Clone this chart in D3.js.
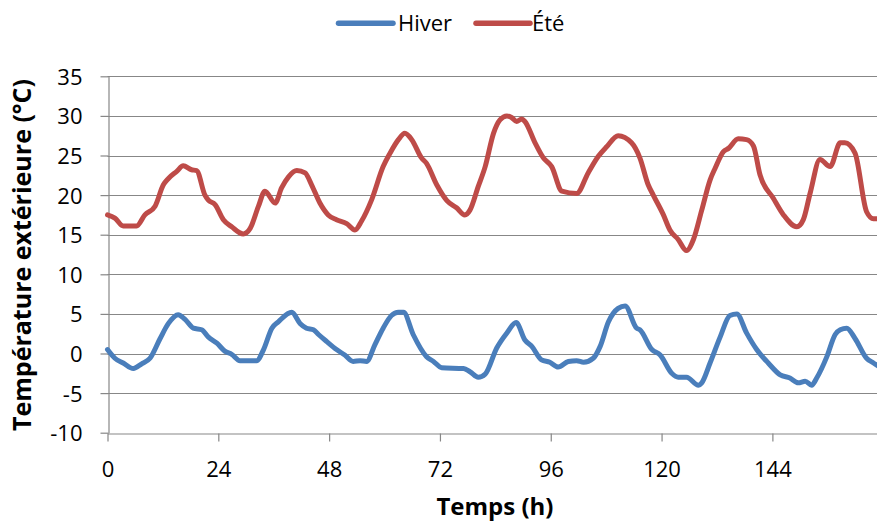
<!DOCTYPE html>
<html>
<head>
<meta charset="utf-8">
<script src="https://cdn.jsdelivr.net/npm/d3@7/dist/d3.min.js"></script>
<style>
  html, body { margin: 0; padding: 0; background: #fff; overflow: hidden; }
  svg { display: block; }
</style>
</head>
<body>
<svg id="chart" width="877" height="524"></svg>
<script>
// ---- data ----
const seriesNames = ["Hiver", "Été"];
const xTicks = [0, 24, 48, 72, 96, 120, 144];
const yTicks = [-10, -5, 0, 5, 10, 15, 20, 25, 30, 35];

const hiverHours = [0, 1.6, 3.4, 5.6, 7.4, 9.2, 11.4, 13.2, 15.3, 16.8, 18.6, 20.4, 21.8, 23.7, 25.4, 26.9, 28.7, 32.3, 33.8, 35.6, 37, 39.9, 41.7, 43.1, 44.6, 45.7, 47.5, 49.6, 51.4, 53.2, 54.7, 56.1, 57.9, 59.7, 61.5, 63, 64.1, 66.2, 69.1, 70.6, 72.4, 77.1, 78.5, 80.3, 81.8, 84.3, 86.5, 88.5, 90.4, 91.9, 94, 95.8, 97.6, 99.8, 101.6, 103.1, 105.2, 106.7, 108.5, 110.6, 112.1, 114.6, 115.3, 117.9, 119.7, 122.2, 123.6, 125.4, 128, 128.7, 130.5, 132.7, 134.8, 136.3, 138.4, 140.6, 143.1, 145.7, 147.8, 149.6, 151.1, 152.5, 153.6, 155.8, 157.6, 158.7, 160.1, 161.9, 164.4, 165.9, 168];
const hiverTemps = [0.5, -0.6, -1.2, -1.9, -1.3, -0.6, 1.9, 3.8, 4.9, 4.3, 3.2, 3.0, 2.1, 1.3, 0.3, -0.1, -0.9, -0.9, 0.5, 3.2, 4.0, 5.2, 3.8, 3.2, 3.0, 2.4, 1.5, 0.5, -0.2, -1.0, -0.9, -1.0, 1.1, 3.2, 4.8, 5.2, 5.2, 2.4, -0.4, -1.0, -1.8, -1.9, -2.3, -3.0, -2.6, 0.7, 2.6, 3.9, 1.7, 0.9, -0.8, -1.1, -1.7, -1.0, -0.9, -1.1, -0.6, 0.9, 4.0, 5.7, 6.0, 3.2, 3.0, 0.5, -0.2, -2.5, -3.0, -3.0, -4.0, -3.7, -1.2, 2.1, 4.8, 5.0, 2.6, 0.5, -1.2, -2.7, -3.1, -3.7, -3.5, -4.0, -3.1, -0.4, 2.4, 3.0, 3.2, 1.9, -0.6, -1.2, -2.0];

const eteHours = [0, 1.6, 3.4, 6.3, 8.1, 10.3, 12.1, 13.2, 15, 16.4, 18.2, 19.3, 21.1, 21.8, 23.3, 25.1, 26.9, 29.4, 30.9, 32.7, 34.1, 36.3, 37.7, 39.2, 41, 42.8, 44.2, 46, 47.8, 49.6, 51.8, 53.6, 55, 57.2, 59.7, 61.2, 63, 64.4, 65.9, 68, 69.1, 71.3, 73.5, 75.6, 77.4, 78.5, 80.3, 81.8, 83.6, 85, 86.5, 87.5, 88.6, 89.7, 90.4, 92.6, 94.4, 96.2, 98.4, 101.6, 104.1, 106.3, 108.1, 110.6, 113.5, 115.3, 117.1, 118.2, 120.4, 121.8, 123.6, 125.4, 126.9, 128.7, 130.5, 131.6, 133.4, 134.5, 136.6, 138.4, 139.9, 141.3, 144.2, 146.4, 149.3, 150.7, 152.2, 154.3, 156.5, 158.7, 159.7, 161.9, 164.4, 165.9, 168];
const eteTemps = [17.5, 17.1, 16.1, 16.1, 17.5, 18.6, 21.3, 22.1, 23.0, 23.7, 23.2, 23.1, 20.0, 19.4, 18.8, 16.9, 16.0, 15.1, 15.8, 18.6, 20.5, 19.0, 20.9, 22.3, 23.1, 22.8, 21.3, 19.0, 17.5, 16.9, 16.4, 15.6, 16.7, 19.4, 23.6, 25.3, 27.0, 27.8, 27.0, 24.7, 24.0, 21.3, 19.3, 18.4, 17.5, 18.1, 21.1, 23.6, 27.8, 29.5, 30.0, 29.8, 29.3, 29.6, 29.3, 26.6, 24.7, 23.6, 20.5, 20.2, 22.8, 24.9, 26.1, 27.5, 26.6, 24.7, 21.3, 20.0, 17.5, 15.6, 14.4, 13.0, 14.4, 18.1, 21.9, 23.4, 25.5, 25.9, 27.1, 27.0, 26.2, 22.6, 19.6, 17.5, 16.0, 16.9, 20.3, 24.5, 23.6, 26.6, 26.6, 25.3, 17.9, 17.0, 17.0];

const colors = ["#4A7EBB", "#BE4B48"];
const xTitle = "Temps (h)";
const yTitle = "Température extérieure (°C)";

// ---- drawing ----
const FONT = "'Open Sans', 'Noto Sans', 'DejaVu Sans', sans-serif";
const svg = d3.select("#chart");
const gridColor = "#878787";

const x = d3.scaleLinear().domain([0, 168]).range([107.5, 883.2]);
const y = d3.scaleLinear().domain([-10, 35]).range([432.7, 76.3]);
const plainFormat = d => String(d);

// gridlines
svg.append("g")
  .selectAll("line")
  .data(yTicks.filter(d => d !== -10))
  .join("line")
  .attr("x1", x(0)).attr("x2", x(168))
  .attr("y1", d => Math.round(y(d)) + 0.5).attr("y2", d => Math.round(y(d)) + 0.5)
  .attr("stroke", gridColor).attr("stroke-width", 1.2);

// y axis
const yAxis = svg.append("g")
  .attr("transform", `translate(${Math.round(x(0)) + 0.5},0)`)
  .call(d3.axisLeft(y).tickValues(yTicks).tickFormat(plainFormat)
    .tickSize(8).tickPadding(18).tickSizeOuter(0));
yAxis.select(".domain").attr("stroke", gridColor).attr("stroke-width", 1.2);
yAxis.selectAll(".tick line").attr("stroke", gridColor).attr("stroke-width", 1.2);
yAxis.selectAll(".tick text")
  .attr("font-family", FONT).attr("font-size", 22).attr("fill", "#000")
  .attr("dy", "0.36em");

// x axis
const xAxis = svg.append("g")
  .attr("transform", `translate(0,${Math.round(y(-10)) + 0.5})`)
  .call(d3.axisBottom(x).tickValues(xTicks).tickFormat(plainFormat)
    .tickSize(8).tickSizeOuter(0));
xAxis.select(".domain").attr("stroke", gridColor).attr("stroke-width", 1.2);
xAxis.selectAll(".tick line").attr("stroke", gridColor).attr("stroke-width", 1.2);
xAxis.selectAll(".tick text")
  .attr("font-family", FONT).attr("font-size", 22).attr("fill", "#000")
  .attr("y", 43).attr("dy", "0");

// lines
const series = [
  { name: seriesNames[0], hours: hiverHours, temps: hiverTemps, color: colors[0] },
  { name: seriesNames[1], hours: eteHours, temps: eteTemps, color: colors[1] }
];
const line = d3.line()
  .x(d => x(d[0]))
  .y(d => y(d[1]))
  .curve(d3.curveMonotoneX);

svg.append("g")
  .selectAll("path")
  .data(series)
  .join("path")
  .attr("d", s => line(s.hours.map((h, i) => [h, s.temps[i]])))
  .attr("fill", "none")
  .attr("stroke", s => s.color)
  .attr("stroke-width", 5)
  .attr("stroke-linejoin", "round")
  .attr("stroke-linecap", "round");

// legend
const legendItems = [
  { x1: 338.5, x2: 393, tx: 398 },
  { x1: 476, x2: 530, tx: 532 }
];
const lg = svg.append("g");
series.forEach((s, i) => {
  const it = legendItems[i];
  lg.append("line")
    .attr("x1", it.x1).attr("x2", it.x2)
    .attr("y1", 23.3).attr("y2", 23.3)
    .attr("stroke", s.color).attr("stroke-width", 5.5)
    .attr("stroke-linecap", "round");
  lg.append("text")
    .attr("x", it.tx).attr("y", 31)
    .attr("font-family", FONT).attr("font-size", 22).attr("fill", "#000")
    .text(s.name);
});

// axis titles
svg.append("text")
  .attr("x", 495).attr("y", 515)
  .attr("text-anchor", "middle")
  .attr("font-family", FONT).attr("font-size", 24).attr("font-weight", "bold")
  .attr("fill", "#000")
  .text(xTitle);

svg.append("text")
  .attr("transform", "translate(31,255) rotate(-90)")
  .attr("text-anchor", "middle")
  .attr("font-family", FONT).attr("font-size", 25).attr("font-weight", "bold")
  .attr("fill", "#000")
  .text(yTitle);
</script>
</body>
</html>
